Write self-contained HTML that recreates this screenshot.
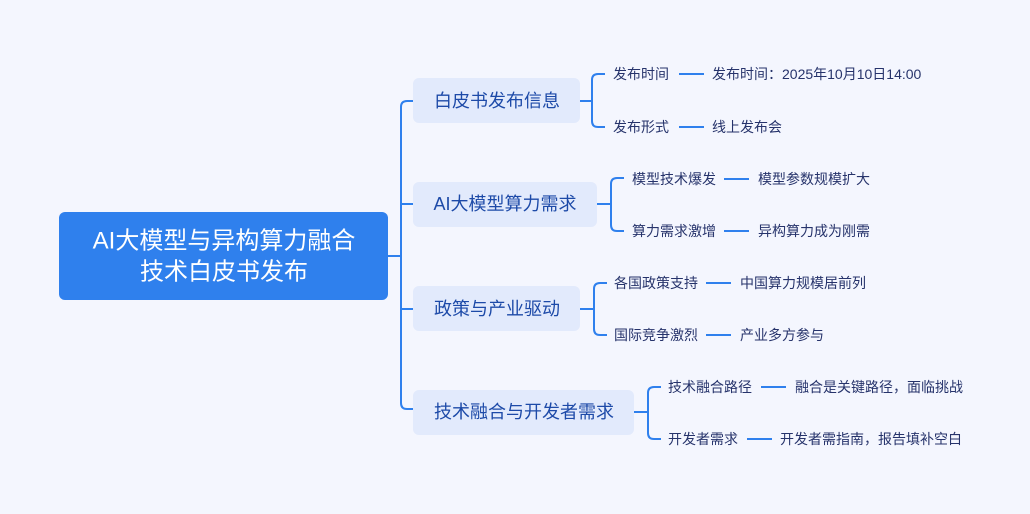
<!DOCTYPE html>
<html><head><meta charset="utf-8"><style>
html,body{margin:0;padding:0;background:#f4f6fe;}
svg{display:block;font-family:"Liberation Sans","Noto Sans CJK SC",sans-serif;}
.l{fill:none;stroke:#2f80ed;stroke-width:2;}
.b{fill:#e2eafc;}
.bt{font-size:18px;fill:#1d4aa8;text-anchor:middle;dominant-baseline:central;}
.t{font-size:14px;fill:#26336b;dominant-baseline:central;}
</style></head><body>
<svg width="1030" height="514" viewBox="0 0 1030 514">
<rect width="1030" height="514" fill="#f4f6fe"/>
<path class="l" d="M388 256 H401"/>
<path class="l" d="M413 101 H407 Q401 101 401 107 V403 Q401 409 407 409 H413"/>
<path class="l" d="M401 204 H413 M401 309 H413"/>
<rect x="59" y="212" width="329" height="88" rx="6" fill="#2f80ed"/>
<text x="224" y="241" font-size="24" fill="#fff" text-anchor="middle" dominant-baseline="central">AI大模型与异构算力融合</text>
<text x="224" y="272" font-size="24" fill="#fff" text-anchor="middle" dominant-baseline="central">技术白皮书发布</text>
<rect class="b" x="413" y="78" width="167" height="45" rx="6"/>
<text class="bt" x="497" y="101">白皮书发布信息</text>
<rect class="b" x="413" y="182" width="184" height="45" rx="6"/>
<text class="bt" x="505" y="204">AI大模型算力需求</text>
<rect class="b" x="413" y="286" width="167" height="45" rx="6"/>
<text class="bt" x="497" y="309">政策与产业驱动</text>
<rect class="b" x="413" y="390" width="221" height="45" rx="6"/>
<text class="bt" x="524" y="412">技术融合与开发者需求</text>
<path class="l" d="M580 101 H592 M605 74 H598 Q592 74 592 80 V121 Q592 127 598 127 H605"/>
<path class="l" d="M597 204 H611 M624 178 H617 Q611 178 611 184 V225 Q611 231 617 231 H624"/>
<path class="l" d="M580 309 H594 M607 283 H600 Q594 283 594 289 V329 Q594 335 600 335 H607"/>
<path class="l" d="M634 412 H648 M661 387 H654 Q648 387 648 393 V433 Q648 439 654 439 H661"/>
<text class="t" x="613" y="74">发布时间</text>
<path class="l" d="M679 74 H704"/>
<text class="t" x="712" y="74">发布时间：2025年10月10日14:00</text>
<text class="t" x="613" y="127">发布形式</text>
<path class="l" d="M679 127 H704"/>
<text class="t" x="712" y="127">线上发布会</text>
<text class="t" x="632" y="179">模型技术爆发</text>
<path class="l" d="M724 179 H749"/>
<text class="t" x="758" y="179">模型参数规模扩大</text>
<text class="t" x="632" y="231">算力需求激增</text>
<path class="l" d="M724 231 H749"/>
<text class="t" x="758" y="231">异构算力成为刚需</text>
<text class="t" x="614" y="283">各国政策支持</text>
<path class="l" d="M706 283 H731"/>
<text class="t" x="740" y="283">中国算力规模居前列</text>
<text class="t" x="614" y="335">国际竞争激烈</text>
<path class="l" d="M706 335 H731"/>
<text class="t" x="740" y="335">产业多方参与</text>
<text class="t" x="668" y="387">技术融合路径</text>
<path class="l" d="M761 387 H786"/>
<text class="t" x="795" y="387">融合是关键路径，面临挑战</text>
<text class="t" x="668" y="439">开发者需求</text>
<path class="l" d="M747 439 H772"/>
<text class="t" x="780" y="439">开发者需指南，报告填补空白</text>
</svg>
</body></html>
